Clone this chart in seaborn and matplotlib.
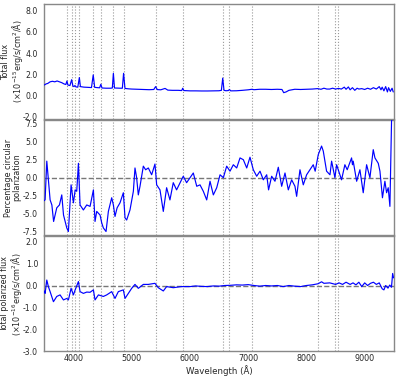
import numpy as np
import pandas as pd
import matplotlib
matplotlib.use("Agg")
import matplotlib.pyplot as plt
import seaborn as sns

# ---- Data ----
flux_wave = [3500, 3530, 3560, 3600, 3640, 3680, 3720, 3760, 3800, 3840, 3870, 3889, 3905, 3940,
             3970, 3990, 4010, 4026, 4045, 4075, 4102, 4120, 4180, 4250, 4310, 4340, 4365, 4420,
             4450, 4471, 4490, 4560, 4640, 4668, 4686, 4705, 4800, 4840, 4861, 4885, 4950, 5000,
             5100, 5200, 5300, 5380, 5411, 5440, 5500, 5573, 5620, 5700, 5800, 5860, 5876, 5895,
             6000, 6100, 6200, 6300, 6400, 6500, 6540, 6563, 6585, 6620, 6660, 6678, 6700, 6800,
             6900, 7000, 7065, 7100, 7200, 7300, 7400, 7500, 7580, 7610, 7650, 7700, 7800, 7900,
             8000, 8100, 8190, 8250, 8300, 8350, 8400, 8450, 8500, 8550, 8600, 8650, 8680, 8720,
             8750, 8790, 8830, 8870, 8900, 8950, 9000, 9050, 9100, 9150, 9200, 9250, 9280, 9300,
             9330, 9360, 9390, 9410, 9440, 9470, 9490]
flux_vals = [1.0, 1.1, 1.15, 1.3, 1.35, 1.3, 1.38, 1.3, 1.22, 1.1, 1.05, 1.38, 1.0, 0.95,
             1.5, 0.92, 0.85, 0.95, 0.82, 0.8, 1.7, 0.85, 0.8, 0.78, 0.76, 1.95, 0.78, 0.75,
             0.74, 1.07, 0.72, 0.7, 0.7, 0.72, 2.1, 0.72, 0.7, 0.7, 2.1, 0.68, 0.64, 0.62,
             0.6, 0.58, 0.56, 0.58, 0.85, 0.57, 0.55, 0.68, 0.52, 0.5, 0.5, 0.48, 0.7, 0.48,
             0.45, 0.45, 0.44, 0.44, 0.45, 0.46, 0.5, 1.65, 0.5, 0.46, 0.48, 0.58, 0.45, 0.46,
             0.5, 0.55, 0.6, 0.56, 0.6, 0.6, 0.58, 0.6, 0.58, 0.28, 0.35, 0.5, 0.6, 0.58,
             0.6, 0.62, 0.66, 0.6, 0.7, 0.62, 0.62, 0.7, 0.62, 0.68, 0.62, 0.8, 0.6, 0.82,
             0.55, 0.75, 0.5, 0.7, 0.62, 0.66, 0.58, 0.7, 0.6, 0.75, 0.62, 0.85, 0.55, 0.8,
             0.45, 0.85, 0.35, 0.75, 0.4, 0.7, 0.35]

pol_wave = [3500, 3514, 3543, 3570, 3600, 3630, 3660, 3714, 3760, 3800, 3830, 3886, 3914, 3960,
            4000, 4030, 4057, 4086, 4114, 4171, 4229, 4286, 4343, 4371, 4400, 4457, 4486, 4514,
            4560, 4600, 4657, 4686, 4714, 4750, 4800, 4857, 4886, 4914, 4971, 5029, 5057, 5085,
            5114, 5143, 5200, 5240, 5286, 5343, 5400, 5429, 5486, 5543, 5600, 5657, 5714, 5771,
            5857, 5886, 5943, 6002, 6058, 6117, 6173, 6230, 6288, 6345, 6402, 6460, 6517, 6574,
            6631, 6688, 6745, 6803, 6860, 6917, 6975, 7031, 7088, 7146, 7203, 7260, 7318, 7350,
            7403, 7460, 7517, 7575, 7632, 7689, 7746, 7803, 7832, 7889, 7946, 8003, 8060, 8117,
            8150, 8203, 8260, 8289, 8346, 8404, 8432, 8489, 8518, 8575, 8603, 8660, 8700, 8775,
            8790, 8803, 8862, 8918, 8975, 9033, 9090, 9147, 9176, 9233, 9262, 9305, 9347, 9376,
            9404, 9433, 9461, 9476, 9495]
pol_vals = [-3.2, -3.07, 2.3, -0.3, -3.1, -3.8, -6.1, -4.2, -3.8, -2.4, -5.2, -7.0, -7.5, -1.0,
            -3.5, -1.7, -1.9, 2.0, -3.8, -4.5, -3.8, -4.0, -1.7, -6.1, -4.7, -5.2, -6.3, -7.0,
            -7.5, -4.7, -2.8, -3.8, -5.4, -4.2, -3.5, -2.1, -5.6, -5.9, -4.5, -1.9, 1.35, 0.0,
            -2.4, -1.2, 1.6, 1.1, 1.35, 0.4, 1.9, -1.0, -1.7, -4.7, -1.4, -3.1, -0.7, -1.7,
            -0.3, 0.2, -0.7, 0.0, 0.65, -1.2, -1.0, -1.9, -3.1, -0.5, -2.4, -1.4, 0.4, 0.0,
            1.6, 0.9, 1.8, 1.35, 2.75, 2.5, 1.35, 2.85, 1.1, 0.2, 0.9, -0.3, 0.4, -1.7,
            0.2, -0.5, 1.45, -1.2, 0.65, -1.7, -0.3, -1.2, -2.6, 1.1, -1.0, 0.4, 1.1, 1.8,
            0.9, 3.2, 4.4, 3.7, 0.9, 0.4, 2.3, 0.0, 1.8, 0.4, -0.3, 1.8, 1.1, 2.75,
            1.8, 2.3, -0.5, 1.1, -2.1, 1.8, 0.0, 3.9, 2.75, 2.0, 0.9, -2.8, -0.5, -2.1,
            -1.4, -4.0, 7.9, 8.3, 8.5]

pf_wave = [3500, 3514, 3543, 3570, 3600, 3657, 3714, 3771, 3829, 3886, 3914, 3960, 4000, 4030,
           4086, 4114, 4171, 4229, 4286, 4343, 4371, 4429, 4514, 4571, 4657, 4714, 4771, 4857,
           4886, 4943, 5000, 5057, 5114, 5200, 5286, 5400, 5457, 5543, 5600, 5714, 5850, 6000,
           6100, 6200, 6300, 6400, 6500, 6600, 6700, 6800, 6900, 7000, 7100, 7200, 7300, 7400,
           7500, 7600, 7700, 7800, 7900, 8000, 8100, 8200, 8260, 8300, 8400, 8500, 8560, 8620,
           8680, 8750, 8800, 8850, 8900, 8950, 9000, 9050, 9100, 9150, 9200, 9250, 9300, 9330,
           9360, 9400, 9430, 9460, 9480, 9495]
pf_vals = [-0.25, -0.36, 0.25, -0.05, -0.28, -0.74, -0.5, -0.43, -0.66, -0.59, -0.66, -0.13, -0.43, -0.2,
           0.18, -0.28, -0.36, -0.3, -0.31, -0.2, -0.66, -0.43, -0.5, -0.43, -0.28, -0.59, -0.28, -0.2,
           -0.59, -0.36, -0.13, 0.05, -0.13, 0.05, 0.05, 0.1, -0.1, -0.25, -0.05, -0.1, -0.05, -0.05,
           -0.02, -0.04, -0.05, -0.02, -0.03, 0.0, 0.01, 0.03, 0.02, 0.04, 0.0, -0.03, 0.0, -0.02,
           0.0, -0.05, 0.0, -0.03, -0.05, 0.0, 0.03, 0.08, 0.17, 0.1, 0.12, 0.05, 0.12, 0.05,
           0.15, 0.05, 0.12, 0.03, 0.15, -0.05, 0.12, 0.0, 0.1, 0.15, 0.05, 0.12, -0.15, -0.2,
           0.0, -0.12, 0.02, -0.08, 0.55, 0.35]

line_waves = [3889, 3970, 4026, 4102, 4340, 4471, 4686, 4861, 5411, 5876, 6563, 6678, 7065,
              8190, 8498, 8542]

ylabels = ["Total flux\n($\\times10^{-15}$erg/s/cm$^2$/Å)",
           "Percentage circular\npolarization",
           "Total polarized flux\n($\\times10^{-16}$erg/s/cm$^2$/Å)"]
xlabel = "Wavelength (Å)"

# ---- Figure ----
sns.set_style("white")
plt.rcParams["font.family"] = ["DejaVu Sans"]
plt.rcParams["axes.unicode_minus"] = False

fig = plt.figure(figsize=(3.99, 3.78), dpi=100)
gs = fig.add_gridspec(3, 1, left=0.111, right=0.987, top=0.989, bottom=0.071, hspace=0.01)
axes = [fig.add_subplot(gs[i]) for i in range(3)]

dfs = [pd.DataFrame({"w": flux_wave, "v": flux_vals}),
       pd.DataFrame({"w": pol_wave, "v": pol_vals}),
       pd.DataFrame({"w": pf_wave, "v": pf_vals})]
ylims = [(-2.2, 8.6), (-8.0, 8.0), (-3.0, 2.25)]
yticks = [np.arange(-2, 8.1, 2.0), np.arange(-7.5, 7.6, 2.5), np.arange(-3, 2.1, 1.0)]
label_x = [-0.056, -0.066, -0.059]

for i, ax in enumerate(axes):
    for lw_ in line_waves:
        ax.axvline(lw_, color="#999999", ls=":", lw=0.8, zorder=1)
    if i > 0:
        ax.axhline(0, color="#777777", ls="--", lw=1.0, zorder=1)
    sns.lineplot(data=dfs[i], x="w", y="v", ax=ax, color="#0000ff", lw=0.85,
                 estimator=None, sort=False, zorder=3)
    ax.set_xlim(3500, 9500)
    ax.set_ylim(*ylims[i])
    ax.set_yticks(yticks[i])
    ax.yaxis.set_major_formatter(matplotlib.ticker.FormatStrFormatter("%.1f"))
    ax.set_xticks([4000, 5000, 6000, 7000, 8000, 9000])
    ax.tick_params(axis="y", direction="out", length=3, width=0.8, labelsize=5.6, pad=1.5, color="#333333")
    ax.tick_params(axis="x", direction="in", length=2, width=0.8, labelsize=5.8, pad=2, color="#333333")
    ax.set_ylabel(ylabels[i], fontsize=5.8, linespacing=0.95)
    ax.yaxis.set_label_coords(label_x[i], 0.5)
    for sp in ax.spines.values():
        sp.set_color("#888888")
        sp.set_linewidth(1.0)
    if i < 2:
        ax.set_xlabel("")
        ax.tick_params(axis="x", labelbottom=False)
    else:
        ax.set_xlabel(xlabel, fontsize=6.2, labelpad=1.5)

fig.savefig("out.png", dpi=100)
